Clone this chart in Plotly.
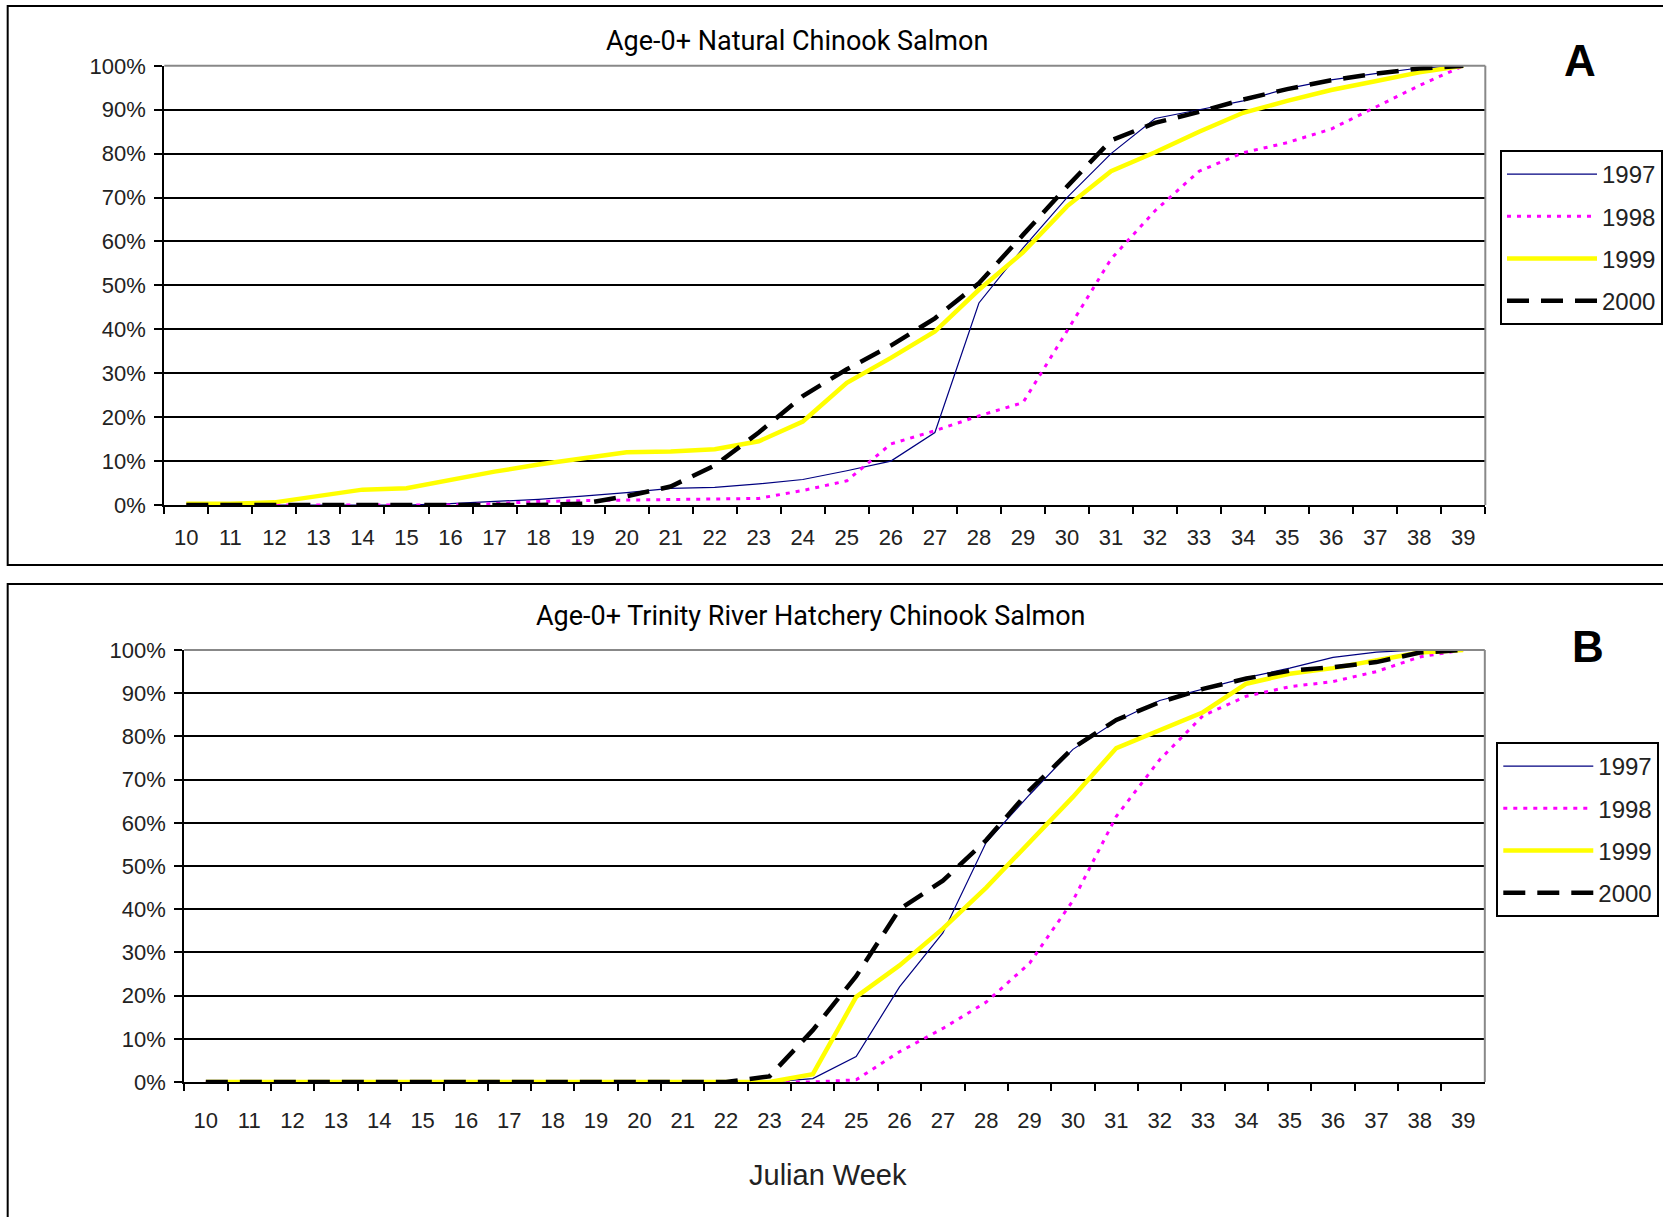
import plotly.graph_objects as go

W, H = 1663, 1217

weeks = [str(w) for w in range(10, 40)]
years = ["1997", "1998", "1999", "2000"]

# Panel A: Age-0+ Natural Chinook Salmon (cumulative %)
a_1997 = [0, 0, 0, 0, 0, 0, 0.3, 0.8, 1.3, 2.0, 2.8, 3.8, 4.0, 4.8, 5.8, 7.8, 10.0, 16.5,
          46.0, 58.5, 70.0, 80.0, 88.0, 90.0, 92.0, 94.8, 96.8, 98.2, 99.5, 100]
a_1998 = [0, 0, 0, 0, 0, 0, 0, 0.3, 0.8, 1.0, 1.1, 1.2, 1.4, 1.5, 3.3, 5.5, 13.9, 16.9,
          20.3, 23.3, 39.6, 56.0, 67.0, 76.0, 80.2, 82.5, 85.6, 90.6, 95.5, 100]
a_1999 = [0.3, 0.3, 0.6, 2.0, 3.5, 3.8, 5.7, 7.6, 9.2, 10.6, 12.0, 12.2, 12.7, 14.5, 19.0,
          27.8, 33.5, 39.5, 49.0, 57.5, 68.0, 76.0, 80.3, 85.0, 89.3, 92.0, 94.5, 96.5, 98.5, 100]
a_2000 = [0, 0, 0, 0, 0, 0, 0, 0, 0, 0.3, 2.0, 4.2, 9.0, 16.5, 24.8, 30.9, 36.3, 42.5,
          50.5, 61.5, 72.5, 83.0, 87.0, 89.5, 92.3, 94.7, 96.7, 98.2, 99.4, 100]

# Panel B: Age-0+ Trinity River Hatchery Chinook Salmon (cumulative %)
b_1997 = [0] * 14 + [0.8, 5.9, 22.0, 34.5, 55.5, 66.5, 77.0, 83.5, 88.3, 91.0, 93.6, 95.8,
                     98.3, 99.5, 100, 100]
b_1998 = [0] * 15 + [0.5, 7.0, 12.4, 18.5, 27.5, 42.0, 61.5, 74.6, 84.8, 89.3, 91.5, 92.7,
                     95.0, 98.4, 100]
b_1999 = [0] * 14 + [1.8, 19.7, 27.0, 35.5, 45.0, 55.5, 66.0, 77.3, 81.5, 85.6, 92.2, 94.5,
                     95.8, 97.5, 99.4, 100]
b_2000 = [0] * 13 + [1.3, 12.0, 24.5, 40.0, 46.6, 56.0, 67.5, 77.3, 83.8, 87.9, 91.0, 93.4,
                     95.2, 96.0, 97.2, 99.4, 100]

panel_a = [a_1997, a_1998, a_1999, a_2000]
panel_b = [b_1997, b_1998, b_1999, b_2000]

styles = {
    "1997": dict(color="#000080", width=1.2),
    "1998": dict(color="#FF00FF", width=3, dash="4px,6px"),
    "1999": dict(color="#FFFF00", width=4.5),
    "2000": dict(color="#000000", width=4.5, dash="22px,12px"),
}

fig = go.Figure()
for panel, xa, ya, lg in [(panel_a, "x", "y", "legend"), (panel_b, "x2", "y2", "legend2")]:
    for yr, vals in zip(years, panel):
        fig.add_trace(go.Scatter(
            x=weeks, y=vals, mode="lines", name=yr, line=styles[yr],
            xaxis=xa, yaxis=ya, legend=lg, legendgroup=lg + yr, hoverinfo="skip"))

tickfont = dict(family="Arial, Liberation Sans", size=22, color="#222")

def xaxis_cfg(domain, anchor, standoff):
    return dict(domain=domain, anchor=anchor, type="category", range=[-0.5, 29.5],
                tickson="boundaries", ticks="outside", ticklen=7, tickwidth=2,
                tickcolor="black", showline=True, linecolor="black", linewidth=2,
                showgrid=False, zeroline=False, tickfont=tickfont,
                ticklabelstandoff=standoff, automargin=False, fixedrange=True)

def yaxis_cfg(domain, anchor):
    return dict(domain=domain, anchor=anchor, range=[0, 100], dtick=10, tick0=0,
                ticksuffix="%", ticks="outside", ticklen=8, tickwidth=2, tickcolor="black",
                showline=True, linecolor="black", linewidth=2, showgrid=True,
                gridcolor="black", gridwidth=1.5, zeroline=False, tickfont=tickfont,
                ticklabelstandoff=4, automargin=False, fixedrange=True)

ax_a = [164.6 / W, 1488 / W]
ay_a = [1 - 505 / H, 1 - 65.8 / H]
ax_b = [184.5 / W, 1487.5 / W]
ay_b = [1 - 1082 / H, 1 - 650 / H]

legfont = dict(family="Arial, Liberation Sans", size=24, color="#222")

fig.update_layout(
    width=W, height=H, autosize=False,
    margin=dict(l=0, r=0, t=0, b=0),
    paper_bgcolor="white", plot_bgcolor="rgba(0,0,0,0)",
    xaxis=xaxis_cfg(ax_a, "y", 12),
    yaxis=yaxis_cfg(ay_a, "x"),
    xaxis2=xaxis_cfg(ax_b, "y2", 18),
    yaxis2=yaxis_cfg(ay_b, "x2"),
    legend=dict(x=1503 / W, y=1 - 150 / H, xanchor="left", yanchor="top",
                bgcolor="white", bordercolor="black", borderwidth=2, font=legfont,
                traceorder="grouped", tracegroupgap=8, itemwidth=90),
    legend2=dict(x=1499 / W, y=1 - 742 / H, xanchor="left", yanchor="top",
                 bgcolor="white", bordercolor="black", borderwidth=2, font=legfont,
                 traceorder="grouped", tracegroupgap=8, itemwidth=90),
    showlegend=True,
)

shapes = []
for xd, yd in [("x domain", "y domain"), ("x2 domain", "y2 domain")]:
    shapes.append(dict(type="line", xref=xd, yref=yd, x0=0, x1=1, y0=1, y1=1,
                       line=dict(color="#888888", width=2), layer="above"))
    shapes.append(dict(type="line", xref=xd, yref=yd, x0=1, x1=1, y0=0, y1=1,
                       line=dict(color="#888888", width=2), layer="above"))
# panel frames
shapes.append(dict(type="rect", xref="paper", yref="paper", x0=7.7 / W, x1=1.05,
                   y0=1 - 565 / H, y1=1 - 6 / H, line=dict(color="black", width=2),
                   fillcolor="rgba(0,0,0,0)", layer="above"))
shapes.append(dict(type="rect", xref="paper", yref="paper", x0=7.7 / W, x1=1.05,
                   y0=-0.05, y1=1 - 584 / H, line=dict(color="black", width=2),
                   fillcolor="rgba(0,0,0,0)", layer="above"))
fig.update_layout(shapes=shapes)

titlefont = dict(family="Roboto, Arial", size=27, color="black")
fig.add_annotation(text="Age-0+ Natural Chinook Salmon", xref="paper", yref="paper",
                   x=798 / W, y=1 - 41 / H, xanchor="center", yanchor="middle",
                   showarrow=False, font=titlefont)
fig.add_annotation(text="Age-0+ Trinity River Hatchery Chinook Salmon", xref="paper",
                   yref="paper", x=812 / W, y=1 - 616 / H, xanchor="center",
                   yanchor="middle", showarrow=False, font=titlefont)
fig.add_annotation(text="<b>A</b>", xref="paper", yref="paper", x=1583 / W, y=1 - 60 / H,
                   xanchor="center", yanchor="middle", showarrow=False,
                   font=dict(family="Arial, Liberation Sans", size=44, color="black"))
fig.add_annotation(text="<b>B</b>", xref="paper", yref="paper", x=1591 / W, y=1 - 646 / H,
                   xanchor="center", yanchor="middle", showarrow=False,
                   font=dict(family="Arial, Liberation Sans", size=44, color="black"))
fig.add_annotation(text="Julian Week", xref="paper", yref="paper", x=829 / W, y=1 - 1175 / H,
                   xanchor="center", yanchor="middle", showarrow=False,
                   font=dict(family="Arial, Liberation Sans", size=29, color="#222"))

fig.write_html("out.html", include_plotlyjs=True, full_html=True,
               config={"displayModeBar": False},
               post_script="document.body.style.margin='0';document.body.style.overflow='hidden';")
